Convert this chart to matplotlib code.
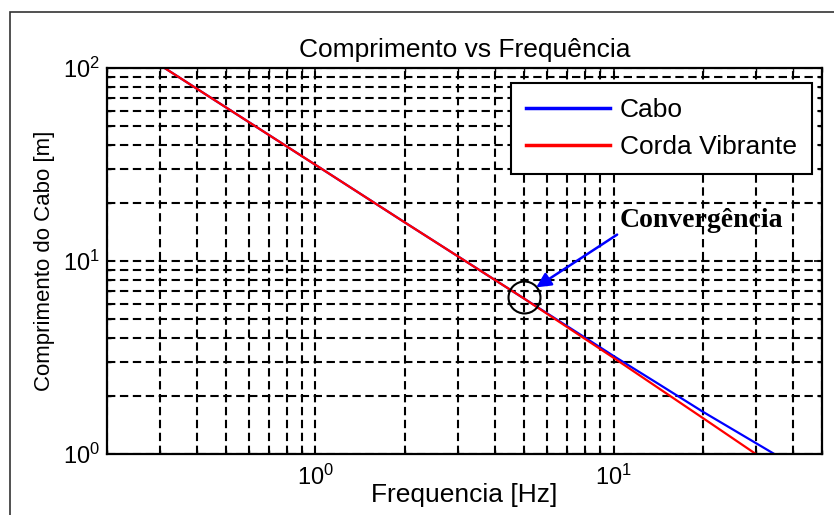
import matplotlib
matplotlib.use("Agg")
import matplotlib.pyplot as plt
from matplotlib.patches import Rectangle

# data
freq_cabo = [0.312, 1.0, 2.0, 5.0, 8.0, 10.0, 14.0, 20.0, 34.6]
comp_cabo = [100.0, 31.5, 15.8, 6.4, 4.02, 3.22, 2.33, 1.65, 1.0]
freq_corda = [0.312, 1.0, 2.0, 5.0, 10.0, 20.0, 30.0]
comp_corda = [100.0, 31.5, 15.8, 6.4, 3.15, 1.53, 1.0]
labels = ["Cabo", "Corda Vibrante"]

# convergence marker and annotation
conv_f, conv_l = 5.0, 6.5
arrow_tip = (5.5, 7.3)
text_pos = (10.5, 14.0)

plt.rcParams["font.family"] = ["Liberation Sans", "DejaVu Sans"]
plt.rcParams["mathtext.fontset"] = "custom"
plt.rcParams["mathtext.rm"] = "Liberation Sans"
plt.rcParams["mathtext.it"] = "Liberation Sans:italic"

fig = plt.figure(figsize=(8.34, 5.15), dpi=100)
ax = fig.add_axes([107 / 834, 1 - 454 / 515, 715 / 834, 386 / 515])

# figure frame like the exported MATLAB window
fig.patches.append(Rectangle((10 / 834, -0.2), 1.2, 1.2 - 12 / 515,
                             transform=fig.transFigure, fill=False,
                             edgecolor="#333333", lw=1.2, clip_on=False))

ax.loglog(freq_cabo, comp_cabo, color="blue", lw=1.6, label=labels[0])
ax.loglog(freq_corda, comp_corda, color="red", lw=1.6, label=labels[1])

ax.plot([conv_f], [conv_l], marker="o", ms=23, mfc="none", mec="black", mew=1.5)
ax.annotate("Convergência", xy=arrow_tip, xytext=text_pos, ha="left", va="bottom",
            family=["Liberation Serif"], fontweight="bold", fontsize=20,
            arrowprops=dict(arrowstyle="-|>", color="blue", lw=1.8,
                            mutation_scale=22, shrinkA=0, shrinkB=0,
                            relpos=(0, 0)))

ax.set_xlim(0.2, 50)
ax.set_ylim(1, 100)

ax.grid(True, which="both", color="black", lw=1.5, ls=(0, (4, 2.2)))
ax.tick_params(which="both", direction="in", top=True, right=True, colors="black")
ax.tick_params(which="major", length=6, width=1.2, labelsize=17, pad=8)
ax.tick_params(which="minor", length=3, width=1.0, labelbottom=False, labelleft=False)
ax.tick_params(axis="y", which="major", pad=5)
for s in ax.spines.values():
    s.set_linewidth(1.6)

ax.set_title("Comprimento vs Frequência", fontsize=19, pad=8)
ax.set_xlabel("Frequencia [Hz]", fontsize=19, labelpad=-5)
ax.set_ylabel("Comprimento do Cabo [m]", fontsize=16, labelpad=6)

leg = ax.legend(loc="upper right", bbox_to_anchor=(0.986, 0.961), fontsize=19,
                frameon=True, fancybox=False, framealpha=1, edgecolor="black",
                handlelength=3.2, handletextpad=0.35, labelspacing=0.48,
                borderpad=0.58, borderaxespad=0)
leg.get_frame().set_linewidth(1.5)
for h in leg.get_lines():
    h.set_linewidth(2.5)

fig.savefig("out.png", dpi=100)
